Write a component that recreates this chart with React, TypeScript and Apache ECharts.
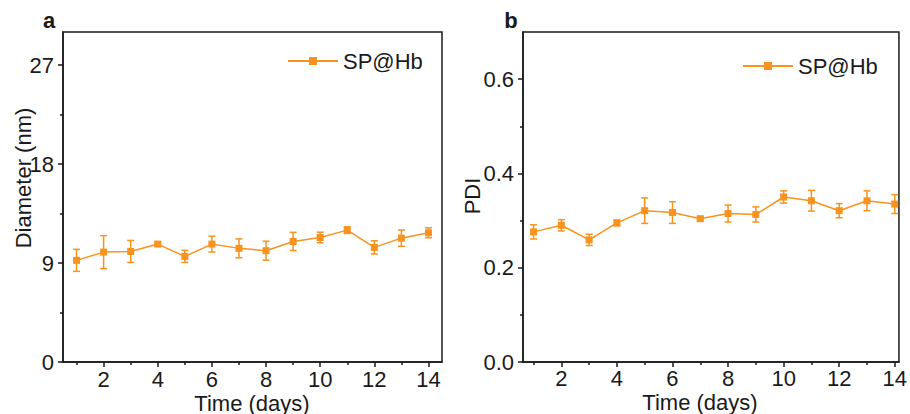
import React, { useEffect, useRef } from "react";
import * as echarts from "echarts";

const days = [1, 2, 3, 4, 5, 6, 7, 8, 9, 10, 11, 12, 13, 14];
const diameter = [9.24, 9.99, 10.05, 10.72, 9.6, 10.72, 10.33, 10.12, 10.96, 11.32, 11.99, 10.42, 11.26, 11.75];
const diameterErr = [1.0, 1.5, 1.0, 0.15, 0.55, 0.72, 0.86, 0.86, 0.83, 0.48, 0.3, 0.6, 0.74, 0.45];
const pdi = [0.276, 0.29, 0.259, 0.295, 0.321, 0.317, 0.304, 0.315, 0.313, 0.35, 0.342, 0.321, 0.342, 0.335];
const pdiErr = [0.015, 0.012, 0.012, 0.006, 0.027, 0.023, 0.003, 0.018, 0.016, 0.013, 0.022, 0.015, 0.021, 0.02];

const xMajorTicks = [2, 4, 6, 8, 10, 12, 14];
const xMinorTicks = [1, 3, 5, 7, 9, 11, 13];
const diameterTicks = [0, 9, 18, 27];
const diameterMinor = [4.5, 13.5, 22.5];
const pdiTicks = [0, 0.2, 0.4, 0.6];
const pdiMinor = [0.1, 0.3, 0.5];

const seriesName = "SP@Hb";
const ORANGE = "#F7931E";
const INK = "#1a1a1a";
const FONT = "'Liberation Sans', Arial, sans-serif";

function errRender(params: any, api: any) {
  const x = api.value(0);
  const lo = api.coord([x, api.value(1)]);
  const hi = api.coord([x, api.value(2)]);
  const cap = 3.5;
  const style = { stroke: ORANGE, lineWidth: 1.5 };
  return {
    type: "group",
    children: [
      { type: "line", shape: { x1: lo[0], y1: lo[1], x2: hi[0], y2: hi[1] }, style },
      { type: "line", shape: { x1: lo[0] - cap, y1: lo[1], x2: lo[0] + cap, y2: lo[1] }, style },
      { type: "line", shape: { x1: hi[0] - cap, y1: hi[1], x2: hi[0] + cap, y2: hi[1] }, style },
    ],
  };
}

export default function App() {
  const ref = useRef<HTMLDivElement>(null);
  useEffect(() => {
    if (!ref.current) return;
    const chart = echarts.init(ref.current, null, { renderer: "svg" });

    const mainX = (grid: number, min: number, max: number, margin: number) => ({
      type: "value",
      gridIndex: grid,
      min,
      max,
      position: "bottom",
      axisLine: { show: true, onZero: false, lineStyle: { color: INK, width: 1.5 } },
      axisTick: { show: true, length: 5, customValues: xMajorTicks, lineStyle: { color: INK, width: 1.5 } },
      axisLabel: { show: true, customValues: xMajorTicks, margin, fontSize: 22, lineHeight: 16, color: INK, fontFamily: FONT },
      splitLine: { show: false },
    });
    const minorX = (grid: number, min: number, max: number) => ({
      type: "value",
      gridIndex: grid,
      min,
      max,
      position: "bottom",
      axisLine: { show: false, onZero: false },
      axisTick: { show: true, length: 3, customValues: xMinorTicks, lineStyle: { color: INK, width: 1.5 } },
      axisLabel: { show: false },
      splitLine: { show: false },
    });
    const mainY = (grid: number, max: number, ticks: number[], fmt: (v: number) => string) => ({
      type: "value",
      gridIndex: grid,
      min: 0,
      max,
      position: "left",
      axisLine: { show: true, onZero: false, lineStyle: { color: INK, width: 1.5 } },
      axisTick: { show: true, length: 5, customValues: ticks, lineStyle: { color: INK, width: 1.5 } },
      axisLabel: { show: true, customValues: ticks, margin: 9, fontSize: 22, color: INK, fontFamily: FONT, formatter: fmt },
      splitLine: { show: false },
    });
    const minorY = (grid: number, max: number, ticks: number[]) => ({
      type: "value",
      gridIndex: grid,
      min: 0,
      max,
      position: "left",
      axisLine: { show: false, onZero: false },
      axisTick: { show: true, length: 3, customValues: ticks, lineStyle: { color: INK, width: 1.5 } },
      axisLabel: { show: false },
      splitLine: { show: false },
    });

    const lineSeries = (xi: number, yi: number, vals: number[]) => ({
      name: seriesName,
      type: "line",
      xAxisIndex: xi,
      yAxisIndex: yi,
      data: days.map((d, i) => [d, vals[i]]),
      symbol: "rect",
      symbolSize: 7,
      lineStyle: { color: ORANGE, width: 1.5 },
      itemStyle: { color: ORANGE },
      z: 3,
    });
    const errSeries = (xi: number, yi: number, vals: number[], errs: number[]) => ({
      type: "custom",
      xAxisIndex: xi,
      yAxisIndex: yi,
      data: days.map((d, i) => [d, vals[i] - errs[i], vals[i] + errs[i]]),
      renderItem: errRender,
      z: 2,
      silent: true,
    });

    const legendBase = {
      data: [seriesName],
      itemWidth: 50,
      itemHeight: 10,
      itemGap: 6,
      textStyle: { fontSize: 22, color: INK, fontFamily: FONT },
      selectedMode: false,
    };

    const nameStyle = { fontSize: 22, lineHeight: 16, fill: INK, fontFamily: FONT, align: "center", verticalAlign: "middle" };

    chart.setOption({
      animation: false,
      backgroundColor: "#ffffff",
      grid: [
        { left: 63, right: 468, top: 32, bottom: 52, show: true, borderColor: INK, borderWidth: 1.5, containLabel: false },
        { left: 523, right: 10, top: 32, bottom: 52, show: true, borderColor: INK, borderWidth: 1.5, containLabel: false },
      ],
      xAxis: [mainX(0, 0.5, 14.5, 9), minorX(0, 0.5, 14.5), mainX(1, 0.62, 14.15, 8), minorX(1, 0.62, 14.15)],
      yAxis: [
        mainY(0, 30, diameterTicks, (v: number) => String(v)),
        minorY(0, 30, diameterMinor),
        mainY(1, 0.7, pdiTicks, (v: number) => v.toFixed(1)),
        minorY(1, 0.7, pdiMinor),
      ],
      legend: [
        { ...legendBase, left: 282, top: 45 },
        { ...legendBase, left: 737, top: 50 },
      ],
      series: [
        errSeries(0, 0, diameter, diameterErr),
        lineSeries(0, 0, diameter),
        errSeries(2, 2, pdi, pdiErr),
        lineSeries(2, 2, pdi),
      ],
      graphic: [
        { type: "text", x: 252, y: 403, style: { ...nameStyle, text: "Time (days)" } },
        { type: "text", x: 700, y: 402, style: { ...nameStyle, text: "Time (days)" } },
        { type: "text", x: 23, y: 178, rotation: Math.PI / 2, style: { ...nameStyle, text: "Diameter (nm)" } },
        { type: "text", x: 472, y: 196, rotation: Math.PI / 2, style: { ...nameStyle, text: "PDI" } },
        { type: "text", x: 49, y: 20, style: { text: "a", fontSize: 22, fontWeight: "bold", fill: INK, fontFamily: FONT, align: "center", verticalAlign: "middle" } },
        { type: "text", x: 511, y: 20, style: { text: "b", fontSize: 22, fontWeight: "bold", fill: INK, fontFamily: FONT, align: "center", verticalAlign: "middle" } },
      ],
    });
    return () => chart.dispose();
  }, []);
  return <div ref={ref} style={{ position: "fixed", left: 0, top: 0, width: 910, height: 414 }} />;
}
